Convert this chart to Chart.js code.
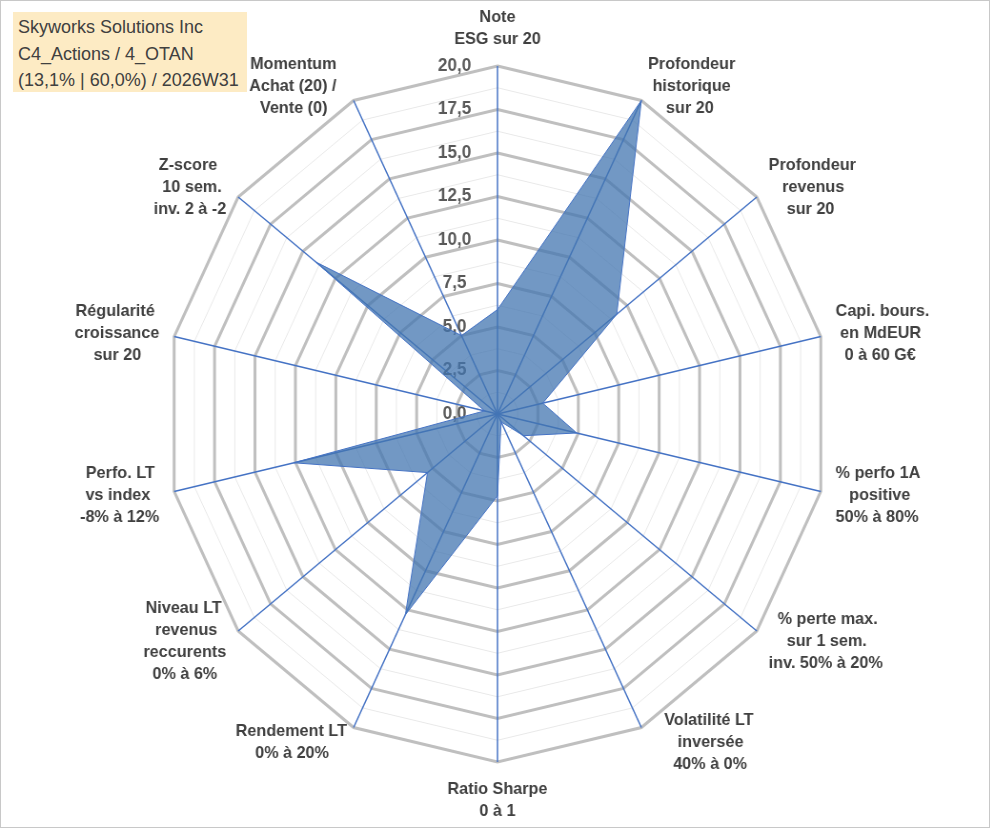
<!DOCTYPE html>
<html>
<head>
<meta charset="utf-8">
<script src="https://cdn.jsdelivr.net/npm/chart.js@4.4.1/dist/chart.umd.min.js"></script>
<style>
  html, body { margin: 0; padding: 0; background: #ffffff; }
  #wrap { position: relative; width: 991px; height: 830px; overflow: hidden; }
  #stretch { position: absolute; left: 0; top: 0; width: 1040px; height: 830px; transform: scaleX(0.953); transform-origin: 0 0; }
  #frame { position: absolute; left: 0; top: 0; width: 988px; height: 826px; border: 1px solid #c8c8c8; box-sizing: content-box; pointer-events: none; }
  #title { position: absolute; left: 13px; top: 12px; width: 234px; height: 80px; background: #fdebc4;
    font-family: "Liberation Sans", Arial, sans-serif; font-size: 18px; color: #404040; line-height: 26.5px;
    padding: 2px 0 0 5px; box-sizing: border-box; white-space: nowrap; }
</style>
</head>
<body>
<div id="wrap">
  <div id="stretch"><canvas id="c" width="1040" height="830"></canvas></div>
  <div id="title">Skyworks Solutions Inc<br>C4_Actions / 4_OTAN<br>(13,1% | 60,0%) / 2026W31</div>
  <div id="frame"></div>
</div>
<script>
// ---- data ----
const categories = [
  ["Note", "ESG sur 20"],
  ["Profondeur", "historique", "sur 20"],
  ["Profondeur", "revenus", "sur 20"],
  ["Capi. bours.", "en MdEUR", "0 à 60 G€"],
  ["% perfo 1A", "positive", "50% à 80%"],
  ["% perte max.", "sur 1 sem.", "inv. 50% à 20%"],
  ["Volatilité LT", "inversée", "40% à 0%"],
  ["Ratio Sharpe", "0 à 1"],
  ["Rendement LT", "0% à 20%"],
  ["Niveau LT", "revenus", "reccurents", "0% à 6%"],
  ["Perfo. LT", "vs index", "-8% à 12%"],
  ["Régularité", "croissance", "sur 20"],
  ["Z-score", "10 sem.", "inv. 2 à -2"],
  ["Momentum", "Achat (20) /", "Vente (0)"]
];
const scores = [6.0, 20, 9.2, 2.8, 4.9, 2.0, 0.5, 4.7, 12.8, 5.4, 12.6, 0.8, 14.0, 5.0];
const scaleMin = -0.0001;
const scaleMax = 20;
const minorStep = 1.25;
const majorStep = 2.5;

const FONT_FAMILY = '"Liberation Sans", Arial, sans-serif';
const labelFont = { family: FONT_FAMILY, size: 17, weight: 'bold', lineHeight: 22 / 17 };

function isMajor(v) {
  const r = Math.round(v * 100) / 100;
  return Math.abs(r / majorStep - Math.round(r / majorStep)) < 1e-6;
}

// centre the lines of each multi-line label (Chart.js aligns them left/right on the sides)
const mctx = document.createElement('canvas').getContext('2d');
mctx.font = 'bold 17px ' + FONT_FAMILY;
const spaceW = mctx.measureText(' ').width;
const n = categories.length;
const displayLabels = categories.map((lines, i) => {
  if (i === 0 || i === n / 2) return lines;
  const widths = lines.map(l => mctx.measureText(l).width);
  const maxW = Math.max(...widths);
  return lines.map((l, k) => {
    const pad = ' '.repeat(Math.max(0, Math.round((maxW - widths[k]) / 2 / spaceW)));
    return i < n / 2 ? pad + l : l + pad;
  });
});

// Excel-like placement of side labels: vertically centred on their anchor point
const extraShiftX = { 6: 17, 13: -11 };
function placeSideLabels(scale) {
  const items = scale._pointLabelItems;
  if (!items) return;
  for (let i = 0; i < items.length; i++) {
    const a = scale.getIndexAngle(i);
    if (Math.abs(Math.sin(a)) < 1e-6) continue;
    const it = items[i];
    const w = it.right - it.left, h = it.bottom - it.top;
    const anchorY = (it.top === it.y && Math.cos(a) > 0) ? it.y + h : it.y;
    it.x += (extraShiftX[i] || 0);
    it.left = it.textAlign === 'left' ? it.x : it.x - w;
    it.right = it.left + w;
    it.y = anchorY - h / 2;
    it.top = it.y;
    it.bottom = it.y + h;
  }
}

new Chart(document.getElementById('c'), {
  type: 'radar',
  data: {
    labels: displayLabels,
    datasets: [{
      data: scores,
      backgroundColor: 'rgba(67,118,176,0.75)',
      borderColor: '#4472c4',
      borderWidth: 1,
      pointRadius: 0,
      fill: true
    }]
  },
  options: {
    responsive: false,
    animation: false,
    devicePixelRatio: 1,
    layout: { padding: { top: 6, bottom: 8, left: 4, right: 0 } },
    plugins: { legend: { display: false }, tooltip: { enabled: false } },
    scales: {
      r: {
        min: scaleMin,
        max: scaleMax,
        afterFit: placeSideLabels,
        ticks: {
          stepSize: minorStep,
          showLabelBackdrop: false,
          backdropPadding: 0,
          color: '#595959',
          font: { family: FONT_FAMILY, size: 18, weight: 'bold' },
          callback: function (v) {
            if (!isMajor(v)) return '';
            const r = Math.abs(Math.round(v * 100) / 100);
            return r.toFixed(1).replace('.', ',') + ' '.repeat(18);
          }
        },
        grid: {
          circular: false,
          color: (ctx) => isMajor(ctx.tick ? ctx.tick.value : 0) ? '#bfbfbf' : '#e9e9e9',
          lineWidth: (ctx) => isMajor(ctx.tick ? ctx.tick.value : 0) ? 3 : 1
        },
        angleLines: { display: true, color: '#4472c4', lineWidth: 1.5 },
        pointLabels: {
          display: true,
          padding: 7,
          color: '#404040',
          font: labelFont
        }
      }
    }
  }
});
</script>
</body>
</html>
